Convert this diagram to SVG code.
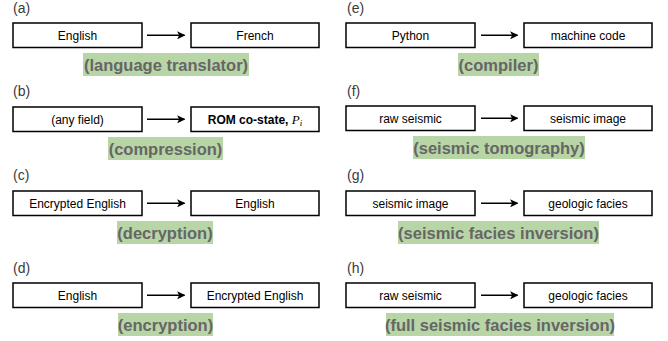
<svg xmlns="http://www.w3.org/2000/svg" width="668" height="341" viewBox="0 0 668 341">
<style>
.bg{fill:#ffffff}
.box{fill:#ffffff;stroke:#000000;stroke-width:1.5}
.t{font-family:"Liberation Sans",Arial,sans-serif;font-size:12px;fill:#000000;text-anchor:middle}
.lab{font-family:"Liberation Sans",Arial,sans-serif;font-size:14px;fill:#3a3a3a}
.cap{fill:#b8d5a6}
.capt{font-family:"Liberation Sans",Arial,sans-serif;font-size:16.5px;font-weight:bold;fill:#666666;text-anchor:middle}
.line{stroke:#000000;stroke-width:1.5;fill:none}
</style>
<defs>
<marker id="ah" viewBox="0 0 10 10" refX="9" refY="5" markerWidth="5.5" markerHeight="5.5" orient="auto" markerUnits="strokeWidth">
<path d="M0,0 L10,5 L0,10 L2.5,5 Z" fill="#000000"/>
</marker>
</defs>
<rect class="bg" x="0" y="0" width="668" height="341"/>

<!-- panel labels -->
<g id="labels">
<text class="lab" x="13" y="12.5">(a)</text>
<text class="lab" x="13" y="96">(b)</text>
<text class="lab" x="13" y="180">(c)</text>
<text class="lab" x="13" y="272.5">(d)</text>
<text class="lab" x="347" y="12.5">(e)</text>
<text class="lab" x="347" y="96">(f)</text>
<text class="lab" x="347" y="180">(g)</text>
<text class="lab" x="347" y="272.5">(h)</text>
</g>

<!-- row a -->
<g id="a-src"><rect class="box" x="13" y="23" width="129" height="24.5"/><text class="t" x="77.5" y="39.5">English</text></g>
<g id="a-dst"><rect class="box" x="191" y="23" width="128" height="24.5"/><text class="t" x="255" y="39.5">French</text></g>
<g id="a-cap"><rect class="cap" x="83" y="53" width="166" height="23"/><text class="capt" x="166" y="70.5">(language translator)</text></g>

<!-- row b -->
<g id="b-src"><rect class="box" x="13" y="107" width="129" height="24.5"/><text class="t" x="77.5" y="123.5">(any field)</text></g>
<g id="b-dst"><rect class="box" x="191" y="107" width="128" height="24.5"/><text class="t" x="255" y="123.5"><tspan font-weight="bold">ROM co-state, </tspan><tspan font-family="'Liberation Serif','Times New Roman',serif" font-style="italic" font-size="13px">P</tspan><tspan font-family="'Liberation Serif','Times New Roman',serif" font-style="italic" font-size="9px" dy="2">i</tspan></text></g>
<g id="b-cap"><rect class="cap" x="108" y="137" width="115" height="23"/><text class="capt" x="165.5" y="154.5">(compression)</text></g>

<!-- row c -->
<g id="c-src"><rect class="box" x="13" y="191" width="129" height="24.5"/><text class="t" x="77.5" y="207.5">Encrypted English</text></g>
<g id="c-dst"><rect class="box" x="191" y="191" width="128" height="24.5"/><text class="t" x="255" y="207.5">English</text></g>
<g id="c-cap"><rect class="cap" x="117" y="221" width="96" height="23"/><text class="capt" x="165" y="238.5">(decryption)</text></g>

<!-- row d -->
<g id="d-src"><rect class="box" x="13" y="283" width="129" height="24.5"/><text class="t" x="77.5" y="299.5">English</text></g>
<g id="d-dst"><rect class="box" x="191" y="283" width="128" height="24.5"/><text class="t" x="255" y="299.5">Encrypted English</text></g>
<g id="d-cap"><rect class="cap" x="118" y="313" width="95" height="23"/><text class="capt" x="165.5" y="330.5">(encryption)</text></g>

<!-- row e -->
<g id="e-src"><rect class="box" x="346" y="23" width="129" height="24.5"/><text class="t" x="410.5" y="39.5">Python</text></g>
<g id="e-dst"><rect class="box" x="524" y="23" width="128" height="24.5"/><text class="t" x="588" y="39.5">machine code</text></g>
<g id="e-cap"><rect class="cap" x="458" y="53" width="81" height="23"/><text class="capt" x="498.5" y="70.5">(compiler)</text></g>

<!-- row f -->
<g id="f-src"><rect class="box" x="346" y="106" width="129" height="24.5"/><text class="t" x="410.5" y="122.5">raw seismic</text></g>
<g id="f-dst"><rect class="box" x="524" y="106" width="128" height="24.5"/><text class="t" x="588" y="122.5">seismic image</text></g>
<g id="f-cap"><rect class="cap" x="413" y="136" width="172" height="23"/><text class="capt" x="499" y="153.5">(seismic tomography)</text></g>

<!-- row g -->
<g id="g-src"><rect class="box" x="346" y="191" width="129" height="24.5"/><text class="t" x="410.5" y="207.5">seismic image</text></g>
<g id="g-dst"><rect class="box" x="524" y="191" width="128" height="24.5"/><text class="t" x="588" y="207.5">geologic facies</text></g>
<g id="g-cap"><rect class="cap" x="398" y="221" width="201" height="23"/><text class="capt" x="498.5" y="238.5">(seismic facies inversion)</text></g>

<!-- row h -->
<g id="h-src"><rect class="box" x="346" y="283" width="129" height="24.5"/><text class="t" x="410.5" y="299.5">raw seismic</text></g>
<g id="h-dst"><rect class="box" x="524" y="283" width="128" height="24.5"/><text class="t" x="588" y="299.5">geologic facies</text></g>
<g id="h-cap"><rect class="cap" x="386" y="313" width="228" height="23"/><text class="capt" x="500" y="330.5">(full seismic facies inversion)</text></g>

<g id="connectors">
<line class="line" x1="147" y1="35.25" x2="184.5" y2="35.25" marker-end="url(#ah)"/>
<line class="line" x1="147" y1="119.25" x2="184.5" y2="119.25" marker-end="url(#ah)"/>
<line class="line" x1="147" y1="203.25" x2="184.5" y2="203.25" marker-end="url(#ah)"/>
<line class="line" x1="147" y1="295.25" x2="184.5" y2="295.25" marker-end="url(#ah)"/>
<line class="line" x1="481" y1="35.25" x2="517.5" y2="35.25" marker-end="url(#ah)"/>
<line class="line" x1="481" y1="118.25" x2="517.5" y2="118.25" marker-end="url(#ah)"/>
<line class="line" x1="481" y1="203.25" x2="517.5" y2="203.25" marker-end="url(#ah)"/>
<line class="line" x1="481" y1="295.25" x2="517.5" y2="295.25" marker-end="url(#ah)"/>
</g>
</svg>
